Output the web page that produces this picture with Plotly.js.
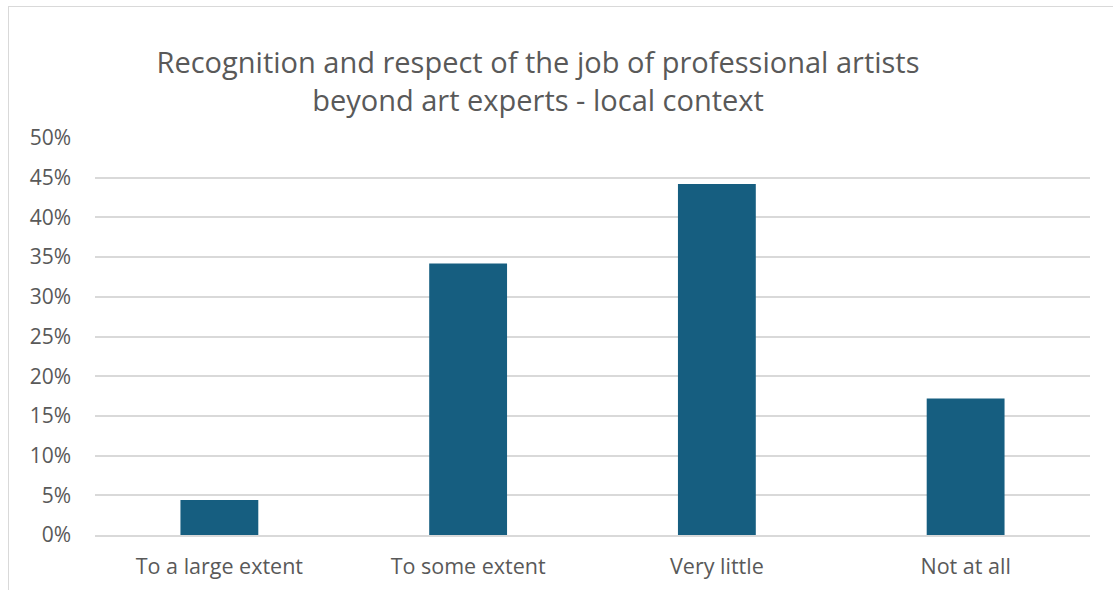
<!DOCTYPE html>
<html><head><meta charset="utf-8">
<script src="https://cdn.plot.ly/plotly-3.0.1.min.js"></script>
<style>
html,body{margin:0;padding:0;background:#fff;}
#frame{position:absolute;left:8px;top:6px;width:1200px;height:700px;border:1px solid #d9d9d9;box-sizing:border-box;}
#chart{position:absolute;left:0;top:0;width:1113px;height:590px;}
</style></head>
<body>
<div id="frame"></div>
<div id="chart"></div>
<script>
const categories = ["To a large extent", "To some extent", "Very little", "Not at all"];
const values = [0.044, 0.342, 0.442, 0.172];
const yTickVals = [0, 0.05, 0.10, 0.15, 0.20, 0.25, 0.30, 0.35, 0.40, 0.45, 0.50];
const yTickText = ["0%", "5%", "10%", "15%", "20%", "25%", "30%", "35%", "40%", "45%", "50%"];
const titleText = "Recognition and respect of the job of professional artists<br>beyond art experts - local context";

const font = "'Open Sans', sans-serif";
Plotly.newPlot('chart', [{
  type: 'bar', x: categories, y: values,
  marker: {color: '#165E80'},
  hoverinfo: 'x+y'
}], {
  width: 1113, height: 590,
  paper_bgcolor: 'rgba(0,0,0,0)', plot_bgcolor: 'rgba(0,0,0,0)',
  margin: {l: 95, r: 23, t: 138, b: 55},
  bargap: 0.687,
  showlegend: false,
  title: {text: titleText, x: 0.4834, xanchor: 'center', y: 0.876, yanchor: 'middle', yref: 'container',
    font: {family: font, size: 29, color: '#595959'}},
  xaxis: {tickfont: {family: font, size: 21.5, color: '#595959'}, showline: true, linecolor: '#d9d9d9', linewidth: 1.5,
    ticks: '', ticklabelstandoff: 11, fixedrange: true},
  yaxis: {range: [0, 0.5], tickvals: yTickVals, ticktext: yTickText, showgrid: true, gridcolor: '#d9d9d9', gridwidth: 1.5,
    zeroline: false, tickfont: {family: font, size: 21, color: '#595959'}, ticks: '', ticklabelstandoff: 23, fixedrange: true}
}, {displayModeBar: false});
</script>
</body></html>
